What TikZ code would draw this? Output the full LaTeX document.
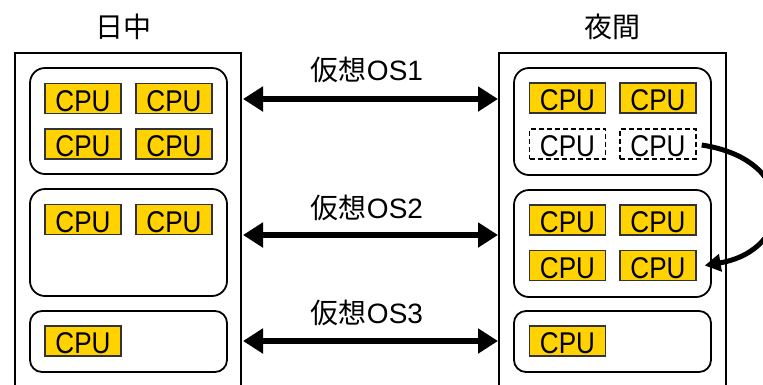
\documentclass[tikz,border=0pt]{standalone}
\usepackage{fontspec}
\setmainfont{Liberation Sans}
\newfontfamily\cjk{Noto Sans CJK JP}
\newfontfamily\cpufont[FakeStretch=0.87]{Liberation Sans}
\usetikzlibrary{arrows.meta}
\definecolor{cpuyellow}{HTML}{FFD200}
\tikzset{
  cpu/.style={draw=black!80, line width=1.4pt, fill=cpuyellow, minimum width=76pt,
    minimum height=30pt, inner sep=0pt, text depth=0pt, text height=25pt,
    font=\cpufont\fontsize{30}{30}\selectfont},
  cpuidle/.style={cpu, fill=white, draw=black, dashed, dash pattern=on 5pt off 3pt},
  host/.style={line width=1.8pt},
  vm/.style={draw, line width=1.8pt, rounded corners=15pt},
  title/.style={font=\cjk\fontsize{28}{28}\selectfont, inner sep=0pt},
  oslabel/.style={font=\fontsize{28}{28}\selectfont, inner sep=0pt},
  link/.style={line width=6pt, {Triangle[length=20pt,width=24pt]}-{Triangle[length=20pt,width=24pt]}},
  move/.style={line width=5pt, -{Triangle[length=16pt,width=17pt]}}
}
\begin{document}
\begin{tikzpicture}[x=1pt,y=-1pt]
\useasboundingbox (0,0) rectangle (763,384);
\clip (0,0) rectangle (763,384);

% column titles
\node[title] (tday) at (123.5,27) {日中};
\node[title] (tnight) at (612,27) {夜間};

% physical hosts (open at the bottom)
\draw[host] (15,390) -- (15,53) -- (241,53) -- (241,390);
\draw[host] (499,390) -- (499,53) -- (726,53) -- (726,390);
\coordinate (dayR1) at (243,99);
\coordinate (nightL1) at (498,99);
\coordinate (dayR2) at (243,235);
\coordinate (nightL2) at (498,235);
\coordinate (dayR3) at (243,341);
\coordinate (nightL3) at (498,341);

% daytime virtual machines
\draw[vm] (30,68) rectangle (227,174);
\draw[vm] (30,189) rectangle (227,296);
\draw[vm, rounded corners=12pt] (30,311) rectangle (227,372);

\node[cpu] (d11) at (83,98.5) {CPU};
\node[cpu] (d12) at (174,98.5) {CPU};
\node[cpu] (d13) at (83,144) {CPU};
\node[cpu] (d14) at (174,144) {CPU};
\node[cpu] (d21) at (83,219.5) {CPU};
\node[cpu] (d22) at (174,219.5) {CPU};
\node[cpu] (d31) at (83,341) {CPU};

% night-time virtual machines
\draw[vm] (514,68) rectangle (711,175);
\draw[vm] (514,190) rectangle (711,297);
\draw[vm, rounded corners=12pt] (514,311) rectangle (711,372);

\node[cpu] (n11) at (567.5,98) {CPU};
\node[cpu] (n12) at (658,98) {CPU};
\node[cpuidle] (n13) at (567.5,144) {CPU};
\node[cpuidle] (n14) at (658,144) {CPU};
\node[cpu] (n21) at (567.5,220) {CPU};
\node[cpu] (n22) at (658,220) {CPU};
\node[cpu] (n23) at (567.5,265.5) {CPU};
\node[cpu] (n24) at (658,265.5) {CPU};
\node[cpu] (n31) at (567.5,341) {CPU};

% virtual OS links
\draw[link] (dayR1) -- (nightL1);
\draw[link] (dayR2) -- (nightL2);
\draw[link] (dayR3) -- (nightL3);
\node[oslabel] (os1) at (367,70) {{\cjk 仮想}OS1};
\node[oslabel] (os2) at (367,208) {{\cjk 仮想}OS2};
\node[oslabel] (os3) at (367,313) {{\cjk 仮想}OS3};

% CPUs handed over at night
\draw[move] (n14.east) ++(5,1) .. controls (800,160) and (795,250) .. ([xshift=8pt]n24.east);
\end{tikzpicture}
\end{document}
